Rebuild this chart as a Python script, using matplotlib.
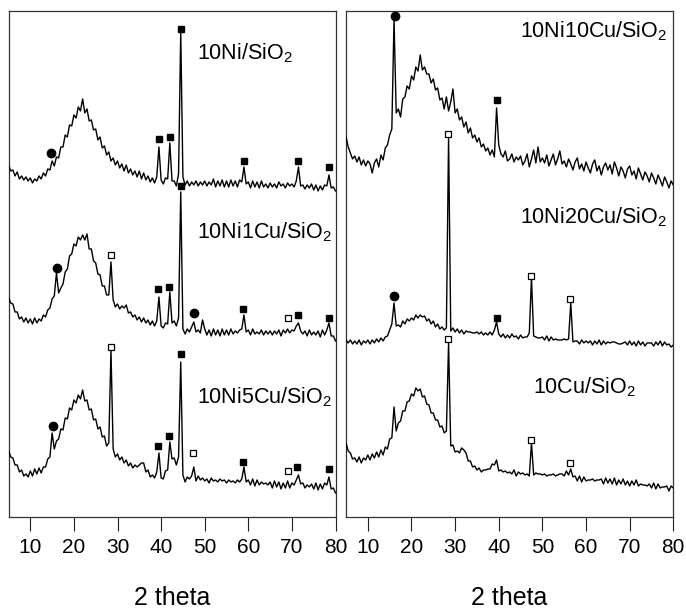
import numpy as np
import matplotlib
matplotlib.use("Agg")
import matplotlib.pyplot as plt

plt.rcParams["font.family"] = ["Liberation Sans", "DejaVu Sans"]
plt.rcParams["mathtext.default"] = "regular"

# 2-theta scan, 0.5 degree steps from 5 to 80
two_theta = np.linspace(5.0, 80.0, 151)

# Intensities (arbitrary units), one row of ten points per 5 degrees
ni10 = [
    52, 46, 47, 41, 45, 38, 41, 37, 40, 36,
    39, 34, 38, 36, 41, 38, 44, 41, 48, 47,
    56, 51, 60, 59, 70, 70, 82, 80, 92, 91,
    102, 99, 110, 106, 118, 104, 108, 96, 97, 87,
    88, 77, 80, 69, 71, 62, 65, 56, 59, 52,
    56, 49, 53, 46, 52, 44, 48, 42, 46, 40,
    46, 38, 44, 37, 41, 35, 39, 34, 40, 70,
    37, 33, 39, 38, 74, 36, 36, 31, 43, 185,
    40, 32, 36, 31, 35, 32, 36, 31, 35, 32,
    36, 31, 35, 32, 38, 30, 36, 31, 37, 30,
    36, 30, 37, 31, 36, 30, 37, 35, 50, 33,
    35, 29, 36, 30, 35, 29, 36, 30, 33, 29,
    34, 30, 33, 29, 35, 31, 33, 29, 34, 31,
    33, 30, 36, 50, 31, 32, 28, 32, 29, 33,
    27, 32, 26, 31, 27, 32, 31, 42, 29, 30,
    26,
]

ni10cu1 = [
    70, 64, 63, 55, 55, 48, 50, 45, 49, 44,
    48, 43, 49, 44, 48, 46, 52, 50, 57, 59,
    68, 71, 94, 74, 79, 83, 95, 98, 111, 113,
    123, 121, 130, 127, 132, 127, 133, 118, 118, 106,
    104, 93, 92, 81, 81, 72, 72, 105, 67, 60,
    63, 58, 61, 59, 62, 54, 55, 50, 52, 47,
    50, 45, 49, 44, 47, 42, 46, 41, 46, 70,
    41, 39, 44, 43, 75, 44, 46, 41, 49, 175,
    38, 33, 38, 35, 40, 45, 35, 37, 34, 47,
    38, 32, 37, 31, 38, 32, 37, 31, 38, 32,
    37, 32, 38, 33, 36, 34, 37, 38, 52, 35,
    37, 32, 38, 33, 35, 33, 37, 32, 36, 33,
    36, 32, 36, 33, 37, 31, 37, 34, 38, 34,
    37, 36, 41, 44, 36, 33, 36, 31, 37, 32,
    35, 32, 36, 30, 37, 32, 37, 44, 31, 31,
    26,
]

ni10cu5 = [
    67, 60, 59, 52, 52, 45, 47, 41, 43, 40,
    46, 41, 48, 43, 49, 44, 50, 50, 58, 60,
    84, 68, 76, 78, 88, 87, 99, 98, 109, 107,
    117, 114, 122, 118, 127, 116, 117, 107, 108, 97,
    98, 88, 90, 80, 81, 71, 74, 167, 68, 60,
    63, 57, 60, 54, 57, 51, 54, 49, 52, 50,
    52, 54, 54, 45, 47, 40, 42, 39, 45, 64,
    39, 38, 46, 47, 75, 58, 59, 52, 60, 155,
    42, 35, 40, 38, 41, 50, 36, 41, 37, 39,
    36, 38, 34, 39, 36, 37, 35, 38, 36, 37,
    34, 37, 35, 36, 34, 37, 35, 38, 50, 35,
    37, 32, 38, 31, 37, 32, 35, 33, 34, 32,
    35, 29, 36, 30, 35, 28, 34, 29, 36, 29,
    34, 32, 37, 42, 33, 34, 29, 32, 30, 33,
    28, 34, 27, 33, 28, 34, 32, 40, 28, 29,
    24,
]

ni10cu10 = [
    80, 70, 64, 58, 61, 55, 60, 52, 57, 51,
    56, 53, 44, 54, 58, 50, 62, 57, 69, 72,
    82, 88, 198, 104, 108, 100, 118, 120, 131, 128,
    141, 137, 150, 146, 162, 147, 150, 143, 143, 134,
    138, 127, 129, 117, 119, 108, 120, 106, 115, 128,
    104, 108, 97, 100, 90, 95, 84, 89, 79, 82,
    75, 79, 70, 73, 66, 69, 62, 67, 60, 109,
    72, 63, 60, 66, 56, 58, 63, 55, 60, 57,
    61, 52, 56, 63, 50, 58, 67, 54, 70, 55,
    59, 54, 62, 51, 57, 63, 52, 58, 66, 53,
    56, 50, 58, 53, 47, 55, 59, 48, 53, 46,
    55, 49, 44, 53, 57, 46, 51, 42, 50, 54,
    47, 52, 43, 55, 49, 41, 50, 46, 39, 48,
    51, 42, 46, 38, 49, 43, 37, 45, 41, 35,
    44, 39, 33, 42, 37, 31, 40, 35, 29, 36,
    32,
]

ni10cu20 = [
    27, 24, 27, 23, 26, 23, 27, 22, 26, 24,
    27, 23, 27, 24, 28, 25, 29, 26, 30, 31,
    37, 43, 64, 41, 42, 40, 46, 43, 48, 46,
    49, 47, 52, 49, 52, 50, 51, 46, 48, 43,
    46, 40, 43, 38, 40, 37, 39, 230, 36, 39,
    35, 38, 34, 37, 33, 36, 35, 35, 34, 34,
    35, 33, 35, 32, 34, 32, 35, 32, 37, 45,
    33, 30, 33, 29, 32, 29, 33, 30, 31, 28,
    32, 29, 30, 30, 34, 89, 31, 30, 29, 29,
    30, 27, 31, 26, 30, 27, 28, 27, 27, 27,
    28, 27, 28, 64, 25, 26, 26, 23, 27, 24,
    26, 24, 26, 22, 26, 23, 27, 22, 26, 23,
    25, 24, 25, 25, 24, 23, 23, 24, 25, 22,
    26, 22, 25, 21, 26, 22, 25, 21, 24, 24,
    24, 21, 25, 22, 26, 21, 25, 22, 23, 20,
    22,
]

cu10 = [
    74, 66, 64, 58, 59, 55, 60, 54, 59, 57,
    62, 57, 63, 59, 65, 60, 67, 62, 70, 68,
    78, 79, 110, 86, 94, 96, 106, 106, 115, 116,
    123, 121, 129, 126, 128, 120, 121, 113, 112, 104,
    104, 97, 97, 90, 91, 84, 86, 174, 71, 72,
    65, 66, 64, 69, 67, 64, 56, 56, 50, 51,
    47, 49, 45, 47, 47, 48, 48, 53, 52, 57,
    46, 47, 45, 46, 44, 45, 43, 47, 41, 45,
    43, 44, 42, 43, 41, 74, 42, 44, 43, 43,
    42, 43, 41, 42, 42, 43, 41, 42, 43, 43,
    41, 46, 42, 48, 40, 41, 36, 41, 35, 40,
    36, 37, 37, 38, 36, 37, 37, 38, 33, 39,
    34, 38, 33, 39, 32, 37, 33, 38, 32, 36,
    31, 36, 32, 37, 31, 33, 32, 32, 31, 33,
    29, 34, 28, 33, 29, 30, 30, 31, 26, 31,
    29,
]

sample_names_left = ["10Ni/SiO$_2$", "10Ni1Cu/SiO$_2$", "10Ni5Cu/SiO$_2$"]
sample_names_right = ["10Ni10Cu/SiO$_2$", "10Ni20Cu/SiO$_2$", "10Cu/SiO$_2$"]
stack_offsets = [300, 150, 0]

# Phase markers: (2-theta, intensity) for filled squares, circles, open squares
ni10_marks = {
    "filled": [(39.5, 78), (42.0, 80), (44.6, 188), (58.9, 56), (71.5, 56), (78.6, 50)],
    "circle": [(14.8, 64)],
    "open": [],
}
ni10cu1_marks = {
    "filled": [(39.4, 78), (41.8, 80), (44.5, 181), (58.8, 58), (71.3, 52), (78.4, 49)],
    "circle": [(16.1, 99), (47.5, 54)],
    "open": [(28.4, 112), (69.0, 49)],
}
ni10cu5_marks = {
    "filled": [(39.4, 71), (41.8, 81), (44.5, 163), (58.8, 55), (71.2, 50), (78.4, 48)],
    "circle": [(15.1, 91)],
    "open": [(28.5, 170), (47.4, 64), (69.0, 46)],
}
ni10cu10_marks = {
    "filled": [(39.5, 117)],
    "circle": [(16.2, 201)],
    "open": [],
}
ni10cu20_marks = {
    "filled": [(39.6, 49)],
    "circle": [(16.1, 71)],
    "open": [(28.4, 233), (47.3, 91), (56.3, 68)],
}
cu10_marks = {
    "filled": [],
    "circle": [],
    "open": [(28.4, 178), (47.3, 77), (56.3, 54)],
}

# label baselines in axes fraction, left edges in axes fraction
label_x_left = [0.576, 0.576, 0.576]
label_y_left = [0.905, 0.551, 0.225]
label_x_right = [0.532, 0.532, 0.572]
label_y_right = [0.948, 0.581, 0.245]

xticks = [10, 20, 30, 40, 50, 60, 70, 80]

fig = plt.figure(figsize=(6.86, 6.09), dpi=100)
ax_left = fig.add_axes([0.0124, 0.1511, 0.4767, 0.8309])
ax_right = fig.add_axes([0.5044, 0.1511, 0.4771, 0.8309])


def draw_marks(ax, marks, offset):
    for key, style in (
        ("filled", dict(marker="s", ms=5.0, mfc="black", mec="black")),
        ("circle", dict(marker="o", ms=6.0, mfc="black", mec="black")),
        ("open", dict(marker="s", ms=4.6, mfc="white", mec="black", mew=0.9)),
    ):
        pts = marks[key]
        if not pts:
            continue
        xs = [p[0] for p in pts]
        ys = [p[1] + offset for p in pts]
        ax.plot(xs, ys, ls="none", zorder=4, **style)


panels = [
    (ax_left, [ni10, ni10cu1, ni10cu5], [ni10_marks, ni10cu1_marks, ni10cu5_marks],
     sample_names_left, label_x_left, label_y_left),
    (ax_right, [ni10cu10, ni10cu20, cu10], [ni10cu10_marks, ni10cu20_marks, cu10_marks],
     sample_names_right, label_x_right, label_y_right),
]

for ax, traces, marks_list, names, lx, ly in panels:
    for trace, marks, off, name, tx, ty in zip(traces, marks_list, stack_offsets, names, lx, ly):
        ax.plot(two_theta, np.asarray(trace) + off, color="black", lw=1.0, zorder=3)
        draw_marks(ax, marks, off)
        ax.text(tx, ty, name, transform=ax.transAxes, fontsize=15.5,
                ha="left", va="baseline", color="black")
    ax.set_xlim(5, 80)
    ax.set_ylim(0, 506)
    ax.set_yticks([])
    ax.set_xticks(xticks)
    ax.tick_params(axis="x", direction="out", length=10, width=0.8,
                   pad=5, labelsize=15, colors="#222222", labelcolor="black")
    for sp in ax.spines.values():
        sp.set_color("#333333")
        sp.set_linewidth(0.9)
    ax.set_xlabel("2 theta", fontsize=18, labelpad=21)

fig.savefig("out.png", dpi=100)
